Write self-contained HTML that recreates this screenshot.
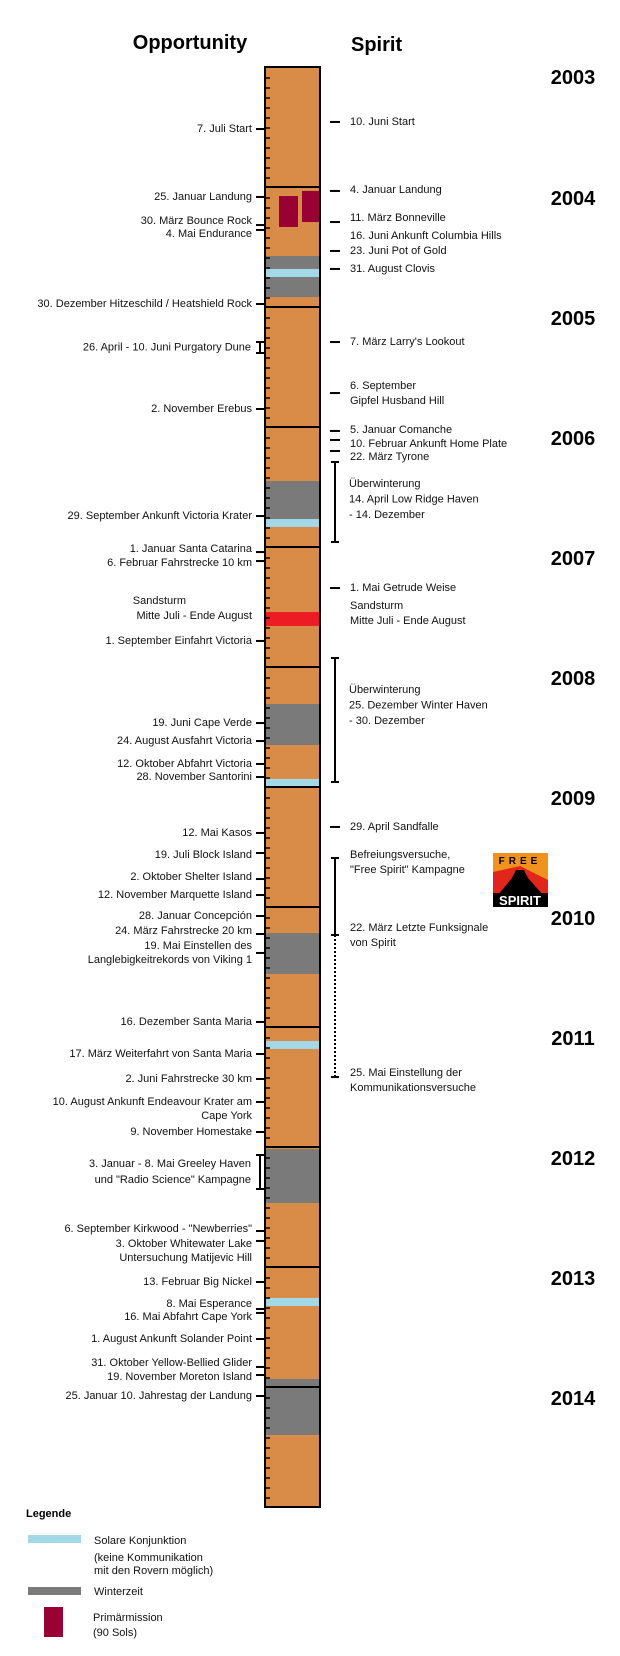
<!DOCTYPE html>
<html><head><meta charset="utf-8">
<style>
html,body{margin:0;padding:0;background:#fff;}
svg{display:block;font-family:"Liberation Sans",Arial,sans-serif;}
.lbl{font-size:11px;fill:#111;}
.yr{font-size:20px;font-weight:bold;fill:#000;}
</style></head>
<body>
<svg id="chart" width="620" height="1656" viewBox="0 0 620 1656" xmlns="http://www.w3.org/2000/svg">
<text x="190" y="49" text-anchor="middle" style="font-size:20px;font-weight:bold">Opportunity</text>
<text x="351" y="51" style="font-size:20px;font-weight:bold">Spirit</text>
<g id="bands"></g><g id="frame"></g><g id="opp"></g><g id="spi"></g><g id="years"></g>
<g>
<rect x="493" y="853" width="55" height="54" fill="#f0921e"/>
<polygon points="493,872 520,866 548,880 548,907 493,907" fill="#e3261c"/>
<polygon points="498,895 512,878 516,870 524,870 528,878 543,895" fill="#000"/>
<rect x="493" y="893" width="55" height="14" fill="#000"/>
<text x="520" y="864" text-anchor="middle" style="font-size:10px;font-weight:bold;letter-spacing:4px" fill="#000">FREE</text>
<text x="520" y="905" text-anchor="middle" style="font-size:13px;font-weight:bold" fill="#fff">SPIRIT</text>
</g>
<g>
<text x="26" y="1517" style="font-size:11px;font-weight:bold">Legende</text>
<rect x="28" y="1535" width="53" height="8" fill="#a3d8e6"/>
<text class="lbl" x="94" y="1544">Solare Konjunktion</text>
<text class="lbl" x="94" y="1561">(keine Kommunikation</text>
<text class="lbl" x="94" y="1574">mit den Rovern  möglich)</text>
<rect x="28" y="1587" width="53" height="8" fill="#7a7a7a"/>
<text class="lbl" x="94" y="1595">Winterzeit</text>
<rect x="44" y="1607" width="19" height="30" fill="#990033"/>
<text class="lbl" x="93" y="1621">Primärmission</text>
<text class="lbl" x="93" y="1636">(90 Sols)</text>
</g>
</svg>
<script>
// ---- data ----
const years = [2003,2004,2005,2006,2007,2008,2009,2010,2011,2012,2013,2014];
const winterStart = [2004.575,2006.45,2008.308,2010.217,2012.017,2013.933];
const winterEnd   = [2004.917,2006.767,2008.65,2010.558,2012.467,2014.4];
const conjStart = [2004.683,2006.767,2008.933,2011.117,2013.258];
const conjEnd   = [2004.75,2006.833,2009.0,2011.183,2013.325];
const stormStart = 2007.542, stormEnd = 2007.658;
const primaryOpp = [2004.075,2004.333];
const primarySpirit = [2004.033,2004.292];
const oppDates = [2003.517,2004.083,2004.317,2004.358,2004.975,2005.85,2006.742,2007.042,2007.117,2007.783,2008.467,2008.617,2008.808,2008.917,2009.383,2009.55,2009.767,2009.9,2010.075,2010.225,2010.383,2010.958,2011.225,2011.433,2011.625,2011.875,2012.7,2012.783,2013.125,2013.35,2013.383,2013.6,2013.833,2013.9,2014.075];
const oppLabels = [["7. Juli Start"],["25. Januar Landung"],["30. März Bounce Rock"],["4. Mai Endurance"],["30. Dezember Hitzeschild / Heatshield Rock"],["2. November Erebus"],["29. September Ankunft Victoria Krater"],["1. Januar Santa Catarina"],["6. Februar Fahrstrecke 10 km"],["1. September Einfahrt Victoria"],["19. Juni Cape Verde"],["24. August Ausfahrt Victoria"],["12. Oktober Abfahrt Victoria"],["28. November Santorini"],["12. Mai Kasos"],["19. Juli Block Island"],["2. Oktober Shelter Island"],["12. November Marquette Island"],["28. Januar Concepción"],["24. März Fahrstrecke 20 km"],["19. Mai Einstellen des","Langlebigkeitrekords von Viking 1"],["16. Dezember Santa Maria"],["17. März Weiterfahrt von Santa Maria"],["2. Juni Fahrstrecke 30 km"],["10. August Ankunft Endeavour Krater am","Cape York"],["9. November Homestake"],["6. September   Kirkwood - \"Newberries\""],["3. Oktober  Whitewater Lake","Untersuchung Matijevic Hill"],["13. Februar Big Nickel"],["8. Mai Esperance"],["16. Mai Abfahrt Cape York"],["1. August Ankunft Solander Point"],["31. Oktober Yellow-Bellied Glider"],["19. November Moreton Island"],["25. Januar 10. Jahrestag der Landung"]];
const oppLabelShift = [0,0,-4,4,0,0,0,-3,2,0,0,0,0,0,0,2,-2,0,0,-3,-7,0,0,0,0,0,-2,3,0,-5,4,0,-4,2,0];
const oppRanges = [[2005.292,2005.383],[2012.067,2012.35]];
const oppRangeLabels = [["26. April - 10. Juni Purgatory Dune"],["3. Januar - 8. Mai Greeley Haven","und \"Radio Science\" Kampagne"]];
const spiDates = [2003.458,2004.033,2004.292,2004.533,2004.683,2005.292,2005.717,2006.033,2006.108,2006.2,2007.342,2009.333];
const spiLabels = [["10. Juni  Start"],["4. Januar  Landung"],["11. März  Bonneville"],["23. Juni  Pot of Gold"],["31. August  Clovis"],["7. März  Larry's Lookout"],["6. September","Gipfel Husband Hill"],["5. Januar Comanche"],["10. Februar Ankunft Home Plate"],["22. März Tyrone"],["1. Mai Getrude Weise"],["29. April  Sandfalle"]];
const spiLabelShift = [0,-1,-4,0,0,0,-7,-1,4,6,0,0];
const spiTextOnly = [[2004.408,["16. Juni  Ankunft Columbia Hills"]],[2007.491,["Sandsturm","Mitte Juli - Ende August"]],[2009.567,["Befreiungsversuche,","\"Free Spirit\" Kampagne"]],[2010.175,["22. März   Letzte Funksignale","von Spirit"]],[2011.383,["25. Mai Einstellung der","Kommunikationsversuche"]]];
const spiRanges = [[2006.292,2006.958],[2007.925,2008.958],[2009.592,2010.233]];
const spiRangeLabels = [["Überwinterung","14. April  Low Ridge Haven","- 14. Dezember"],["Überwinterung","25. Dezember   Winter Haven","- 30. Dezember"],[]];
const spiDotted = [2010.233,2011.417];
// ---- scales ----
const Y0=67, PX_PER_YEAR=120, BAR_L=265, BAR_R=320;
const y = v => Y0 + (v-2003)*PX_PER_YEAR;
const NS="http://www.w3.org/2000/svg";
function mk(parent,tag,attrs){const e=document.createElementNS(NS,tag);for(const k in attrs)e.setAttribute(k,attrs[k]);parent.appendChild(e);return e;}
function txt(parent,x,yy,s,anchor){const t=mk(parent,'text',{x:x,y:yy,'class':'lbl','text-anchor':anchor,'dominant-baseline':'central'});t.textContent=s;return t;}
const bands=document.getElementById('bands'),frame=document.getElementById('frame'),opp=document.getElementById('opp'),spi=document.getElementById('spi'),yrs=document.getElementById('years');
// bar background
const bg=mk(bands,'rect',{x:BAR_L,y:y(2003),width:BAR_R-BAR_L,height:y(2015)-y(2003),fill:'#d98c47'});


winterStart.forEach((s,i)=>{const r=mk(bands,'rect',{x:BAR_L,y:y(s),width:BAR_R-BAR_L,height:y(winterEnd[i])-y(s),fill:'#7a7a7a'});

});
conjStart.forEach((s,i)=>{const r=mk(bands,'rect',{x:BAR_L,y:y(s),width:BAR_R-BAR_L,height:y(conjEnd[i])-y(s),fill:'#a3d8e6'});

});
const st=mk(bands,'rect',{x:BAR_L,y:y(stormStart),width:BAR_R-BAR_L,height:y(stormEnd)-y(stormStart),fill:'#ec1c24'});


const p1=mk(bands,'rect',{x:279,y:y(primaryOpp[0]),width:19,height:y(primaryOpp[1])-y(primaryOpp[0]),fill:'#990033'});


const p2=mk(bands,'rect',{x:302,y:y(primarySpirit[0]),width:19,height:y(primarySpirit[1])-y(primarySpirit[0]),fill:'#990033'});


// month ticks
for(let m=1;m<144;m++){if(m%12===0)continue;mk(frame,'line',{x1:BAR_L,x2:BAR_L+5,y1:y(2003+m/12)+1,y2:y(2003+m/12)+1,stroke:'#000','stroke-width':1.5});}
// year lines
years.forEach((yr,i)=>{if(i>0)mk(frame,'line',{x1:BAR_L,x2:BAR_R,y1:y(yr),y2:y(yr),stroke:'#000','stroke-width':2});
const t=mk(yrs,'text',{x:573,y:y(yr)+(yr===2003?17:18),'class':'yr','text-anchor':'middle'});t.textContent=yr;

});
const br=mk(frame,'rect',{x:BAR_L,y:y(2003),width:BAR_R-BAR_L,height:y(2015)-y(2003),fill:'none',stroke:'#000','stroke-width':2});


// opportunity events
oppDates.forEach((d,i)=>{const g=mk(opp,'g',{});


mk(g,'line',{x1:256,x2:266,y1:y(d),y2:y(d),stroke:'#000','stroke-width':2});
const L=oppLabels[i];L.forEach((s,j)=>txt(g,252,y(d)+oppLabelShift[i]+j*14,s,'end'));});
txt(opp,252,y(2007.45),"Sandsturm",'end').setAttribute('x',186);
txt(opp,252,y(2007.575),"Mitte Juli - Ende August",'end');
oppRanges.forEach((r,i)=>{const g=mk(opp,'g',{});


const a=y(r[0]),b=y(r[1]);
mk(g,'path',{d:`M256 ${a}H264M260 ${a}V${b}M256 ${b}H264`,stroke:'#000','stroke-width':2,fill:'none'});
const L=oppRangeLabels[i];const mid=(a+b)/2-(L.length-1)*8;L.forEach((s,j)=>txt(g,251,mid+j*16,s,'end'));});
// spirit events
spiDates.forEach((d,i)=>{const g=mk(spi,'g',{});


mk(g,'line',{x1:330,x2:340,y1:y(d),y2:y(d),stroke:'#000','stroke-width':2});
const L=spiLabels[i];L.forEach((s,j)=>txt(g,350,y(d)+spiLabelShift[i]+j*15,s,'start'));});
spiTextOnly.forEach(([d,L])=>{const g=mk(spi,'g',{});


L.forEach((s,j)=>txt(g,350,y(d)+j*15,s,'start'));});
spiRanges.forEach((r,i)=>{const g=mk(spi,'g',{});


const a=y(r[0]),b=y(r[1]);
mk(g,'path',{d:`M331 ${a}H339M335 ${a}V${b}M331 ${b}H339`,stroke:'#000','stroke-width':2,fill:'none'});
const L=spiRangeLabels[i];const mid=(a+b)/2-(L.length-1)*7.5-(i===1?15:3);L.forEach((s,j)=>txt(g,349,mid+j*15.5,s,'start'));});
const dg=mk(spi,'g',{});


mk(dg,'line',{x1:335,x2:335,y1:y(spiDotted[0]),y2:y(spiDotted[1]),stroke:'#000','stroke-width':2,'stroke-dasharray':'2,2'});
mk(dg,'line',{x1:331,x2:339,y1:y(spiDotted[1]),y2:y(spiDotted[1]),stroke:'#000','stroke-width':2});
</script>
</body></html>
